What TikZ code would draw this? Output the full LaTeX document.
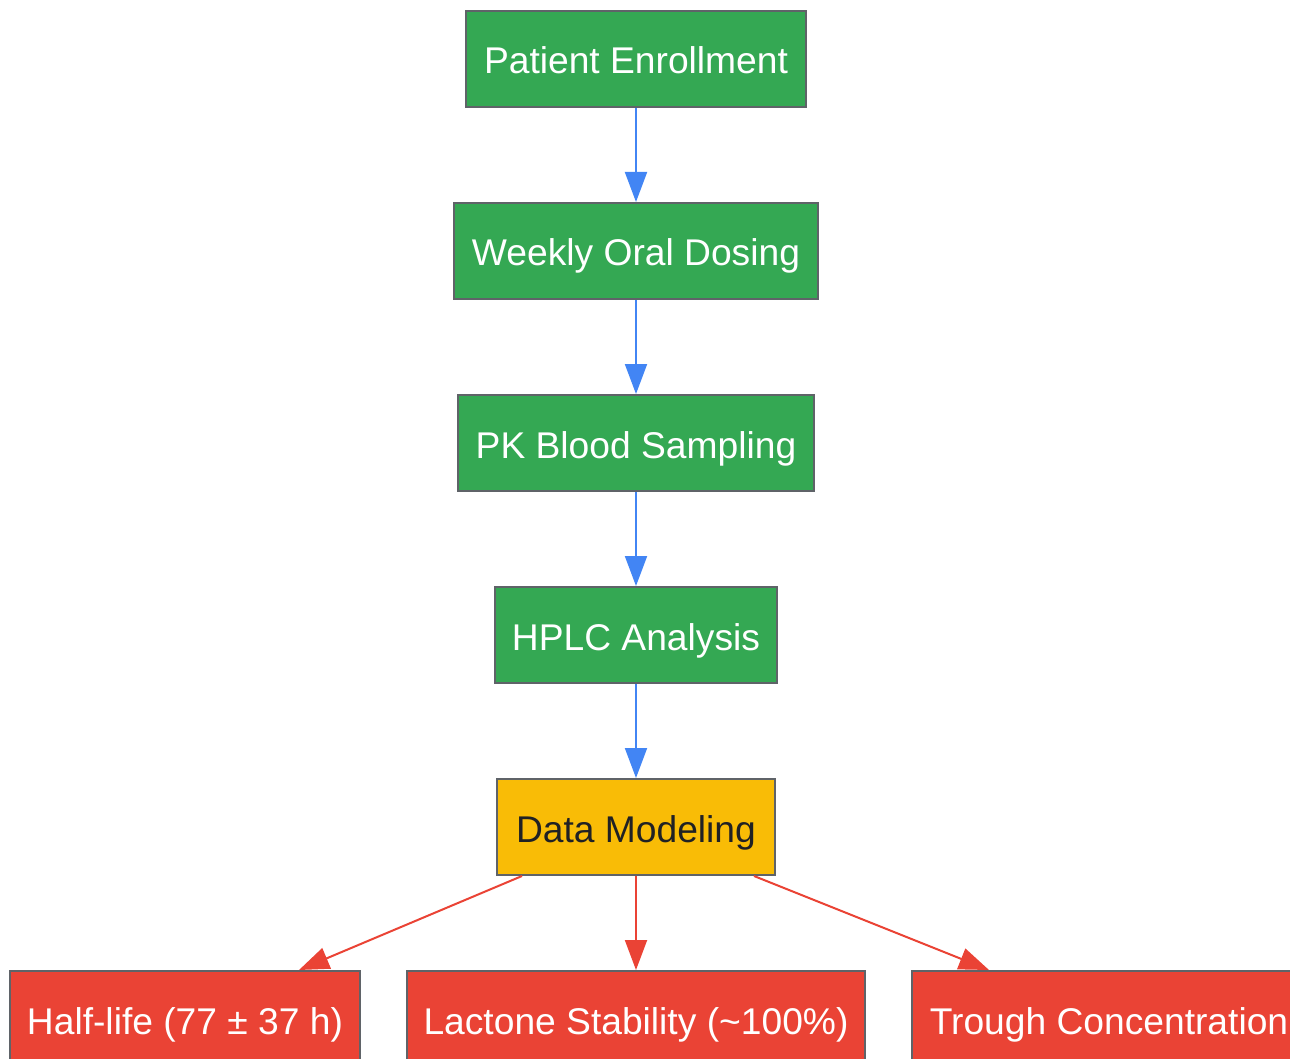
\documentclass[tikz,border=0pt]{standalone}
\usepackage{fontspec}
\setmainfont{Liberation Sans}
\usetikzlibrary{arrows.meta,calc}
\definecolor{gfill}{HTML}{34A853}
\definecolor{yfill}{HTML}{F9BC06}
\definecolor{rfill}{HTML}{EA4335}
\definecolor{bline}{HTML}{4285F4}
\definecolor{bord}{HTML}{5F6368}
\definecolor{dtext}{HTML}{202124}
\tikzset{
  box/.style={draw=bord, line width=2pt, minimum height=96pt, inner sep=0pt,
    text height=30pt, text depth=0pt,
    font=\fontsize{37.2}{44}\selectfont},
  gbox/.style={box, fill=gfill, text=white},
  ybox/.style={box, fill=yfill, text=dtext},
  rbox/.style={box, fill=rfill, text=white},
  barrow/.style={draw=bline, line width=2pt, -{Triangle[length=30pt,width=22pt]}},
  rarrow/.style={draw=rfill, line width=2pt, -{Triangle[length=30pt,width=22pt]}}
}
\begin{document}
\begin{tikzpicture}[x=1pt,y=-1pt]
\useasboundingbox (0,0) rectangle (1290,1059);
\node[gbox, minimum width=340pt] (pe) at (636,59) {Patient Enrollment};
\node[gbox, minimum width=364pt] (wd) at (636,251) {Weekly Oral Dosing};
\node[gbox, minimum width=356pt] (pk) at (636,443) {PK Blood Sampling};
\node[gbox, minimum width=282pt] (hp) at (636,635) {HPLC Analysis};
\node[ybox, minimum width=278pt] (dm) at (636,827) {Data Modeling};
\node[rbox, minimum width=350pt] (hl) at (185,1019) {Half-life (77 ± 37 h)};
\node[rbox, minimum width=458pt] (ls) at (636,1019) {Lactone Stability (\textasciitilde100\%)};
\node[rbox, minimum width=394pt] (tc) at (1109,1019) {Trough Concentration};
\draw[barrow] (pe) -- (wd);
\draw[barrow] (wd) -- (pk);
\draw[barrow] (pk) -- (hp);
\draw[barrow] (hp) -- (dm);
\draw[rarrow] ($(dm.south west)+(26,0)$) -- ($(hl.north east)+(-62,0)$);
\draw[rarrow] (dm) -- (ls);
\draw[rarrow] ($(dm.south east)+(-22,0)$) -- ($(tc.north west)+(78,0)$);
\end{tikzpicture}
\end{document}
